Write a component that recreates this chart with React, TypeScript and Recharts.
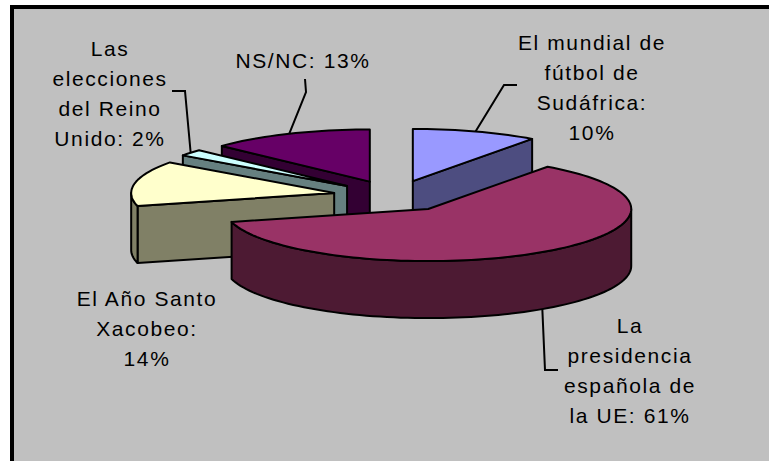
import React from "react";
import { PieChart, Pie } from "recharts";

const CATEGORIES = [
  "El mundial de fútbol de Sudáfrica",
  "La presidencia española de la UE",
  "El Año Santo Xacobeo",
  "Las elecciones del Reino Unido",
  "NS/NC",
];
const VALUES = [10, 61, 14, 2, 13];

// label wrapping: last entry is the prefix put in front of the percentage
const LABEL_LINES = [
  ["El mundial de", "fútbol de", "Sudáfrica:", ""],
  ["La", "presidencia", "española de", "la UE:"],
  ["El Año Santo", "Xacobeo:", ""],
  ["Las", "elecciones", "del Reino", "Unido:"],
  ["NS/NC:"],
];

const TOP_COLORS = ["#9999FF", "#993366", "#FFFFCC", "#CCFFFF", "#660066"];
const SIDE_COLORS = ["#4D4D80", "#4D1A33", "#808066", "#668080", "#330033"];

// label placement: text centre x, first line centre y, leader bend points
const LABEL_LAYOUT = [
  { x: 592, y: 42, bends: [[504, 85], [517, 85]] },
  { x: 630, y: 325, bends: [[545, 370], [558, 370]] },
  { x: 147, y: 298, bends: null },
  { x: 110, y: 48, bends: [[185, 91], [172, 91]] },
  { x: 303, y: 60, bends: [[306, 92], [305, 79]] },
];

const data = CATEGORIES.map((name, i) => ({ name, value: VALUES[i] }));

const TILT = 0.257; // vertical squash of the pie
const DEPTH = 57; // thickness
const EXPLODE = 0.3; // fraction of radius
const FONT = "'Liberation Sans', Arial, sans-serif";
const RAD = Math.PI / 180;

// paint order: slices further back first
const total = VALUES.reduce((a, b) => a + b, 0);
let acc = 0;
const mids = VALUES.map((v) => {
  const m = ((acc + v / 2) / total) * 360;
  acc += v;
  return m;
});
const ORDER = VALUES.map((_, i) => i).sort(
  (a, b) => -Math.cos(mids[a] * RAD) + Math.cos(mids[b] * RAD)
);

const apexOf = (cx: number, cy: number, R: number, mid: number) => [
  cx + EXPLODE * R * Math.cos(mid * RAD),
  cy - EXPLODE * R * TILT * Math.sin(mid * RAD),
];

const poly = (pts: number[][]) =>
  "M" + pts.map((p) => p[0].toFixed(2) + "," + p[1].toFixed(2)).join("L") + "Z";

const sliceShape = (target: number) => (props: any) => {
  const name = props.payload?.name ?? props.name;
  const idx = CATEGORIES.indexOf(name);
  if (idx !== target) return <g />;
  const { cx, cy, outerRadius: R, startAngle: a1, endAngle: a2, midAngle } = props;
  const [ax, ay] = apexOf(cx, cy, R, midAngle);
  const pt = (a: number, dz = 0) => [
    ax + R * Math.cos(a * RAD),
    ay - R * TILT * Math.sin(a * RAD) + dz,
  ];
  const arc = (from: number, to: number, dz = 0) => {
    const n = Math.max(2, Math.ceil(Math.abs(from - to) / 2));
    const out: number[][] = [];
    for (let i = 0; i <= n; i++) out.push(pt(from + ((to - from) * i) / n, dz));
    return out;
  };
  const A = [ax, ay];
  const AD = [ax, ay + DEPTH];
  const st = { stroke: "#000", strokeWidth: 2, strokeLinejoin: "round" as const };
  const faces: React.ReactNode[] = [];
  if (Math.cos(a1 * RAD) < -1e-6) {
    faces.push(
      <path key="s" d={poly([A, pt(a1), pt(a1, DEPTH), AD])} fill={SIDE_COLORS[idx]} {...st} />
    );
  }
  if (Math.cos(a2 * RAD) > 1e-6) {
    faces.push(
      <path key="e" d={poly([A, pt(a2), pt(a2, DEPTH), AD])} fill={SIDE_COLORS[idx]} {...st} />
    );
  }
  const b1 = Math.min(a1, 0);
  const b2 = Math.max(a2, -180);
  if (b1 > b2) {
    faces.push(
      <path
        key="w"
        d={poly([...arc(b1, b2), ...arc(b2, b1, DEPTH)])}
        fill={SIDE_COLORS[idx]}
        {...st}
      />
    );
  }
  faces.push(<path key="t" d={poly([A, ...arc(a1, a2)])} fill={TOP_COLORS[idx]} {...st} />);
  return <g>{faces}</g>;
};

const renderLabel = (props: any) => {
  const name = props.payload?.name ?? props.name;
  const idx = CATEGORIES.indexOf(name);
  if (idx < 0) return null;
  const { cx, cy, outerRadius: R, midAngle, percent } = props;
  const [ax, ay] = apexOf(cx, cy, R, midAngle);
  const front = Math.sin(midAngle * RAD) < 0;
  const anchor = [
    ax + R * Math.cos(midAngle * RAD),
    ay - R * TILT * Math.sin(midAngle * RAD) + (front ? DEPTH : 0),
  ];
  const lay = LABEL_LAYOUT[idx];
  const lines = [...LABEL_LINES[idx]];
  const pct = `${Math.round(percent * 100)}%`;
  const last = lines.length - 1;
  lines[last] = lines[last] ? `${lines[last]} ${pct}` : pct;
  const fs = 21;
  return (
    <g key={`lab-${idx}`}>
      {lay.bends && (
        <polyline
          points={[anchor, ...lay.bends].map((p) => p.join(",")).join(" ")}
          fill="none"
          stroke="#000"
          strokeWidth={2}
        />
      )}
      <text
        x={lay.x}
        y={lay.y}
        textAnchor="middle"
        fontFamily={FONT}
        fontSize={fs}
        letterSpacing={1.6}
        fill="#000"
      >
        {lines.map((l, i) => (
          <tspan key={i} x={lay.x} y={lay.y + i * 30 + fs * 0.36}>
            {l}
          </tspan>
        ))}
      </text>
    </g>
  );
};

export default function App() {
  return (
    <div
      style={{
        position: "absolute",
        left: 0,
        top: 0,
        width: 769,
        height: 461,
        overflow: "hidden",
        background: "#fff",
      }}
    >
      <div
        style={{
          position: "absolute",
          left: 10,
          top: 5,
          width: 800,
          height: 500,
          border: "4px solid #000",
          background: "#C0C0C0",
        }}
      />
      <PieChart
        width={769}
        height={461}
        margin={{ top: 0, right: 0, bottom: 0, left: 0 }}
        style={{ position: "absolute", left: 0, top: 0 }}
      >
        {ORDER.map((target, k) => (
          <Pie
            key={target}
            data={data}
            dataKey="value"
            nameKey="name"
            cx={394}
            cy={196}
            outerRadius={203}
            startAngle={90}
            endAngle={-270}
            stroke="none"
            isAnimationActive={false}
            shape={sliceShape(target)}
            label={k === ORDER.length - 1 ? renderLabel : false}
            labelLine={false}
          />
        ))}
      </PieChart>
    </div>
  );
}
